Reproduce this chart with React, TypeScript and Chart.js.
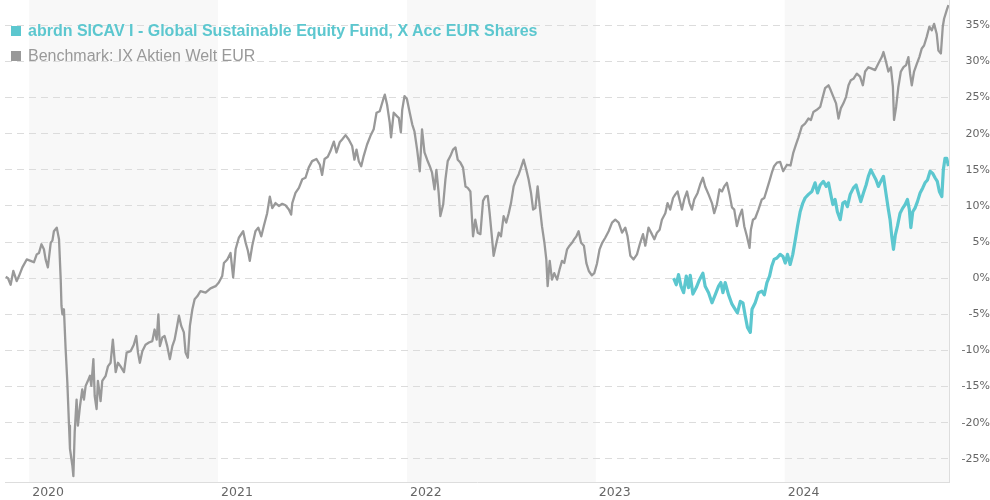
import React, { useEffect, useRef } from 'react';
import { Chart, registerables } from 'chart.js';

Chart.register(...registerables);

const FUND_NAME = 'abrdn SICAV I - Global Sustainable Equity Fund, X Acc EUR Shares';
const BENCH_NAME = 'Benchmark: IX Aktien Welt EUR';
const FUND_COLOR = '#5cc7cf';
const BENCH_COLOR = '#999999';

const YEAR_TICKS = [2020, 2021, 2022, 2023, 2024];
const SHADED_YEARS = [2020, 2022, 2024];
const PCT_TICKS = [-25, -20, -15, -10, -5, 0, 5, 10, 15, 20, 25, 30, 35];
const X_MIN = 2019.872;
const X_MAX = 2024.87;
const Y_MIN = -28.2;
const Y_MAX = 38.5;

// Benchmark: dates as decimal years, values in %
const benchDates = [
  2019.876, 2019.888, 2019.902, 2019.916, 2019.934, 2019.946, 2019.964, 2019.987, 2020.008, 2020.025,
  2020.040, 2020.052, 2020.065, 2020.078, 2020.087, 2020.099, 2020.114, 2020.123, 2020.131, 2020.146,
  2020.158, 2020.167, 2020.171, 2020.176, 2020.184, 2020.193, 2020.202, 2020.211, 2020.216, 2020.229,
  2020.234, 2020.241, 2020.251, 2020.258, 2020.269, 2020.281, 2020.290, 2020.299, 2020.311, 2020.322,
  2020.329, 2020.340, 2020.347, 2020.357, 2020.364, 2020.378, 2020.387, 2020.405, 2020.417, 2020.431,
  2020.443, 2020.458, 2020.470, 2020.484, 2020.502, 2020.516, 2020.537, 2020.554, 2020.567, 2020.576,
  2020.586, 2020.599, 2020.616, 2020.634, 2020.652, 2020.664, 2020.675, 2020.684, 2020.692, 2020.705,
  2020.717, 2020.731, 2020.745, 2020.758, 2020.770, 2020.780, 2020.793, 2020.805, 2020.819, 2020.828,
  2020.840, 2020.851, 2020.864, 2020.876, 2020.890, 2020.907, 2020.934, 2020.960, 2020.987, 2021.004,
  2021.022, 2021.031, 2021.049, 2021.066, 2021.080, 2021.093, 2021.110, 2021.133, 2021.146, 2021.158,
  2021.168, 2021.181, 2021.198, 2021.213, 2021.229, 2021.242, 2021.260, 2021.274, 2021.287, 2021.304,
  2021.322, 2021.340, 2021.357, 2021.375, 2021.387, 2021.393, 2021.410, 2021.428, 2021.446, 2021.463,
  2021.480, 2021.498, 2021.521, 2021.539, 2021.551, 2021.564, 2021.581, 2021.595, 2021.613, 2021.627,
  2021.644, 2021.657, 2021.675, 2021.692, 2021.710, 2021.722, 2021.733, 2021.745, 2021.758, 2021.771,
  2021.789, 2021.807, 2021.824, 2021.839, 2021.856, 2021.874, 2021.883, 2021.895, 2021.909, 2021.916,
  2021.930, 2021.948, 2021.957, 2021.968, 2021.975, 2021.987, 2022.000, 2022.015, 2022.028, 2022.040,
  2022.054, 2022.068, 2022.080, 2022.093, 2022.107, 2022.121, 2022.133, 2022.146, 2022.156, 2022.168,
  2022.177, 2022.192, 2022.204, 2022.216, 2022.230, 2022.244, 2022.257, 2022.269, 2022.283, 2022.297,
  2022.310, 2022.322, 2022.336, 2022.350, 2022.362, 2022.375, 2022.389, 2022.403, 2022.415, 2022.428,
  2022.438, 2022.451, 2022.459, 2022.474, 2022.486, 2022.498, 2022.512, 2022.526, 2022.539, 2022.551,
  2022.565, 2022.579, 2022.592, 2022.604, 2022.618, 2022.632, 2022.644, 2022.657, 2022.668, 2022.680,
  2022.692, 2022.703, 2022.715, 2022.728, 2022.738, 2022.745, 2022.756, 2022.768, 2022.780, 2022.795,
  2022.808, 2022.821, 2022.833, 2022.848, 2022.861, 2022.874, 2022.886, 2022.897, 2022.909, 2022.922,
  2022.937, 2022.950, 2022.963, 2022.979, 2022.992, 2023.006, 2023.020, 2023.034, 2023.050, 2023.068,
  2023.086, 2023.103, 2023.121, 2023.139, 2023.156, 2023.168, 2023.183, 2023.200, 2023.218, 2023.235,
  2023.250, 2023.262, 2023.279, 2023.297, 2023.310, 2023.324, 2023.338, 2023.350, 2023.368, 2023.380,
  2023.394, 2023.409, 2023.421, 2023.433, 2023.443, 2023.456, 2023.468, 2023.483, 2023.496, 2023.509,
  2023.521, 2023.539, 2023.553, 2023.567, 2023.579, 2023.597, 2023.615, 2023.627, 2023.641, 2023.655,
  2023.668, 2023.680, 2023.694, 2023.708, 2023.721, 2023.733, 2023.747, 2023.761, 2023.774, 2023.786,
  2023.800, 2023.814, 2023.821, 2023.832, 2023.844, 2023.861, 2023.879, 2023.892, 2023.906, 2023.920,
  2023.932, 2023.944, 2023.959, 2023.976, 2023.992, 2024.012, 2024.031, 2024.045, 2024.061, 2024.073,
  2024.091, 2024.108, 2024.126, 2024.139, 2024.152, 2024.170, 2024.188, 2024.202, 2024.214, 2024.232,
  2024.244, 2024.258, 2024.272, 2024.285, 2024.297, 2024.311, 2024.325, 2024.338, 2024.350, 2024.364,
  2024.382, 2024.399, 2024.414, 2024.426, 2024.443, 2024.461, 2024.479, 2024.496, 2024.514, 2024.523,
  2024.537, 2024.549, 2024.562, 2024.573, 2024.579, 2024.590, 2024.602, 2024.615, 2024.629, 2024.643,
  2024.655, 2024.664, 2024.673, 2024.685, 2024.700, 2024.713, 2024.726, 2024.738, 2024.752, 2024.766,
  2024.779, 2024.791, 2024.805, 2024.814, 2024.827, 2024.837, 2024.844, 2024.858, 2024.867,
];
const benchValues = [
  0.2, 0.0, -0.9, 1.0, -0.4, 0.3, 1.5, 2.6, 2.4, 2.2,
  3.3, 3.5, 4.7, 4.0, 2.6, 1.5, 4.9, 5.2, 6.5, 7.0,
  5.4, -0.2, -3.8, -5.0, -4.3, -9.8, -14.4, -20.4, -23.6, -26.0,
  -27.4, -21.3, -16.8, -20.4, -17.7, -15.4, -16.8, -14.9, -14.2, -13.5,
  -14.9, -11.2, -16.3, -18.1, -14.2, -17.0, -14.2, -13.5, -12.2, -11.7,
  -8.5, -13.0, -11.7, -12.2, -13.0, -10.3, -10.1, -9.2, -8.0, -10.3,
  -11.7, -10.1, -9.2, -8.9, -8.7, -7.1, -8.5, -5.0, -9.4, -8.2,
  -8.0, -9.4, -11.2, -9.4, -8.5, -7.1, -5.2, -6.6, -7.5, -10.3,
  -11.0, -6.6, -4.3, -2.9, -2.5, -1.8, -2.0, -1.4, -1.1, -0.6,
  0.3, 2.1, 2.6, 3.5, 0.1, 4.0, 5.6, 6.5, 4.9, 3.8,
  2.4, 4.5, 6.5, 7.0, 5.8, 7.2, 9.0, 11.3, 9.7, 10.4,
  10.0, 10.3, 10.1, 9.5, 8.8, 10.4, 11.8, 12.5, 13.7, 13.9,
  15.3, 16.2, 16.5, 15.7, 14.3, 16.5, 16.8, 17.6, 18.9, 17.4,
  18.8, 19.2, 19.8, 19.2, 18.3, 16.4, 17.8, 16.2, 15.5, 16.9,
  18.5, 19.7, 20.6, 22.9, 23.1, 24.7, 25.4, 24.0, 21.5, 19.5,
  22.9, 22.4, 22.2, 20.2, 23.3, 25.2, 24.8, 22.9, 21.3, 20.3,
  17.8, 14.8, 20.6, 17.4, 16.4, 15.5, 14.6, 12.3, 15.0, 11.8,
  8.6, 10.2, 13.7, 16.2, 16.9, 17.8, 18.1, 16.4, 16.0, 15.3,
  12.7, 12.5, 12.0, 5.8, 8.1, 6.3, 6.1, 10.7, 11.3, 11.4,
  9.0, 5.4, 3.1, 4.9, 6.3, 5.8, 8.6, 7.7, 9.0, 10.4,
  12.7, 13.7, 14.4, 15.3, 16.4, 15.0, 13.7, 11.8, 9.5, 9.7,
  12.7, 10.0, 7.2, 4.9, 2.6, -1.1, 2.4, -0.2, 0.7, -0.2,
  1.2, 2.4, 2.1, 4.0, 4.5, 4.9, 5.4, 5.8, 6.5, 4.9,
  4.5, 2.1, 1.0, 0.4, 0.7, 2.0, 4.0, 4.9, 5.6, 6.5,
  7.7, 8.1, 7.7, 6.3, 7.0, 5.8, 3.1, 2.6, 3.3, 4.9,
  6.1, 4.5, 7.0, 6.1, 5.4, 6.3, 6.7, 8.1, 9.0, 10.4,
  9.5, 11.1, 11.6, 12.0, 10.9, 9.5, 10.9, 12.0, 10.4, 9.5,
  10.9, 11.8, 13.0, 13.9, 12.7, 11.6, 10.4, 9.0, 10.2, 12.3,
  12.0, 12.7, 13.2, 11.6, 9.8, 9.5, 7.2, 8.6, 9.5, 7.2,
  5.8, 4.2, 6.7, 8.1, 8.3, 9.5, 10.9, 11.1, 12.3, 13.5,
  14.6, 15.5, 16.0, 16.1, 14.8, 15.7, 15.6, 17.3, 18.6, 19.5,
  21.0, 21.4, 22.1, 21.9, 23.0, 23.3, 23.7, 25.1, 26.3, 26.7,
  26.0, 25.1, 24.2, 22.1, 23.5, 24.2, 25.1, 26.7, 27.4, 27.6,
  28.3, 27.9, 26.7, 28.6, 29.2, 29.0, 28.8, 29.7, 30.6, 31.3,
  29.9, 28.6, 29.2, 26.5, 21.9, 23.7, 26.5, 28.6, 29.2, 29.5,
  30.6, 28.3, 26.7, 28.6, 29.7, 30.6, 31.8, 32.2, 33.4, 34.8,
  34.3, 35.2, 33.8, 31.5, 31.1, 34.8, 35.9, 37.1, 37.8,
];

// Fund: dates as decimal years, values in %
const fundDates = [
  2023.412, 2023.426, 2023.438, 2023.451, 2023.465, 2023.479, 2023.491, 2023.500, 2023.514, 2023.532,
  2023.549, 2023.567, 2023.579, 2023.597, 2023.615, 2023.632, 2023.650, 2023.662, 2023.673, 2023.685,
  2023.703, 2023.721, 2023.738, 2023.750, 2023.765, 2023.779, 2023.791, 2023.803, 2023.818, 2023.827,
  2023.844, 2023.861, 2023.879, 2023.892, 2023.906, 2023.920, 2023.932, 2023.944, 2023.959, 2023.976,
  2023.991, 2024.003, 2024.015, 2024.029, 2024.043, 2024.056, 2024.068, 2024.082, 2024.096, 2024.108,
  2024.126, 2024.144, 2024.161, 2024.174, 2024.188, 2024.205, 2024.220, 2024.232, 2024.244, 2024.255,
  2024.267, 2024.279, 2024.294, 2024.308, 2024.320, 2024.332, 2024.347, 2024.364, 2024.378, 2024.390,
  2024.403, 2024.417, 2024.431, 2024.443, 2024.456, 2024.470, 2024.484, 2024.496, 2024.509, 2024.523,
  2024.537, 2024.549, 2024.558, 2024.567, 2024.576, 2024.586, 2024.597, 2024.611, 2024.625, 2024.638,
  2024.650, 2024.660, 2024.668, 2024.678, 2024.690, 2024.703, 2024.717, 2024.731, 2024.743, 2024.756,
  2024.770, 2024.784, 2024.796, 2024.808, 2024.819, 2024.832, 2024.840, 2024.849, 2024.858, 2024.867,
];
const fundValues = [
  0.0, -0.9, 0.5, -1.1, -2.0, 0.3, -1.3, 0.4, -2.2, -1.3,
  -0.2, 0.7, -1.1, -2.0, -3.4, -2.3, -1.1, -0.6, -2.0, -0.6,
  -2.3, -3.6, -4.3, -4.8, -3.2, -3.4, -5.2, -6.8, -7.5, -4.3,
  -3.4, -2.0, -1.8, -2.3, -0.6, 0.3, 1.7, 2.6, 2.8, 3.3,
  3.0, 2.1, 3.3, 1.9, 3.3, 5.3, 7.2, 9.2, 10.4, 11.1,
  11.6, 12.0, 13.2, 11.8, 12.9, 13.4, 12.7, 13.2, 11.6, 10.2,
  10.9, 9.2, 8.1, 10.4, 10.6, 9.9, 11.6, 12.5, 12.9, 11.8,
  10.6, 11.8, 12.9, 14.1, 15.0, 14.3, 13.6, 12.7, 13.4, 14.1,
  11.6, 9.5, 8.1, 5.8, 4.0, 6.0, 7.2, 9.0, 9.7, 10.2,
  10.9, 9.5, 7.0, 9.2, 9.7, 10.6, 11.8, 12.5, 13.2, 13.6,
  14.8, 14.5, 13.9, 13.4, 12.0, 11.3, 15.0, 16.6, 16.6, 15.5,
];

const toPoints = (xs: number[], ys: number[]) => xs.map((x, i) => ({ x, y: ys[i] }));

const yearBands = {
  id: 'yearBands',
  beforeDraw(chart: any) {
    const { ctx, chartArea, scales } = chart;
    const xs = scales.x;
    ctx.save();
    ctx.fillStyle = '#f8f8f8';
    SHADED_YEARS.forEach((yr) => {
      const x0 = xs.getPixelForValue(Math.max(yr, X_MIN));
      const x1 = xs.getPixelForValue(Math.min(yr + 1, X_MAX));
      ctx.fillRect(x0, 0, x1 - x0, chartArea.bottom);
    });
    ctx.restore();
  },
};

const zeroPadding = (scale: any) => {
  scale.paddingTop = 0;
  scale.paddingBottom = 0;
  scale.paddingLeft = 0;
  scale.paddingRight = 0;
};

export default function App() {
  const canvasRef = useRef<HTMLCanvasElement | null>(null);

  useEffect(() => {
    document.body.style.margin = '0';
    const canvas = canvasRef.current;
    if (!canvas) return;
    const chart = new Chart(canvas, {
      type: 'line',
      data: {
        datasets: [
          {
            label: FUND_NAME,
            data: toPoints(fundDates, fundValues),
            borderColor: FUND_COLOR,
            backgroundColor: FUND_COLOR,
            borderWidth: 3.2,
            pointRadius: 0,
            tension: 0,
            borderJoinStyle: 'round',
          },
          {
            label: BENCH_NAME,
            data: toPoints(benchDates, benchValues),
            borderColor: BENCH_COLOR,
            backgroundColor: BENCH_COLOR,
            borderWidth: 2.3,
            pointRadius: 0,
            tension: 0,
            borderJoinStyle: 'round',
          },
        ],
      },
      options: {
        animation: false,
        responsive: false,
        maintainAspectRatio: false,
        layout: { padding: { left: 5, top: 0, right: 0, bottom: 0 } },
        plugins: {
          legend: { display: false },
          tooltip: { enabled: false },
        },
        scales: {
          x: {
            type: 'linear',
            min: X_MIN,
            max: X_MAX,
            afterBuildTicks: (scale: any) => {
              scale.ticks = YEAR_TICKS.map((v) => ({ value: v }));
            },
            afterFit: (scale: any) => {
              scale.height = 18;
              zeroPadding(scale);
            },
            grid: { display: false, drawTicks: false },
            border: { display: true, color: '#dddddd', width: 1 },
            ticks: {
              align: 'start',
              labelOffset: 3,
              padding: 3,
              maxRotation: 0,
              autoSkip: false,
              color: '#666666',
              font: { family: 'DejaVu Sans', size: 12.5 },
              callback: (v: any) => String(v),
            },
          },
          y: {
            type: 'linear',
            position: 'right',
            min: Y_MIN,
            max: Y_MAX,
            afterBuildTicks: (scale: any) => {
              scale.ticks = PCT_TICKS.map((v) => ({ value: v }));
            },
            afterFit: (scale: any) => {
              scale.width = 41;
              zeroPadding(scale);
            },
            grid: { color: '#dcdcdc', drawTicks: false, lineWidth: 1 },
            border: { display: true, color: '#dddddd', width: 1, dash: [7, 5] },
            ticks: {
              crossAlign: 'far',
              padding: 0,
              color: '#666666',
              font: { family: 'DejaVu Sans', size: 11 },
              callback: (v: any) => `${v}%`,
            },
          },
        },
      },
      plugins: [yearBands],
    });
    return () => chart.destroy();
  }, []);

  const legendRow = (color: string, text: string, bold: boolean) => (
    <div style={{ display: 'flex', alignItems: 'center', height: 25 }}>
      <span style={{ display: 'inline-block', width: 10, height: 10, background: color, marginRight: 7 }} />
      <span
        style={{
          color,
          fontFamily: '"Liberation Sans", Arial, sans-serif',
          fontSize: 16,
          fontWeight: bold ? 'bold' : 'normal',
          whiteSpace: 'nowrap',
        }}
      >
        {text}
      </span>
    </div>
  );

  return (
    <div style={{ position: 'relative', width: 990, height: 500 }}>
      <canvas ref={canvasRef} width={990} height={500} style={{ display: 'block', width: 990, height: 500 }} />
      <div style={{ position: 'absolute', left: 11, top: 18 }}>
        {legendRow(FUND_COLOR, FUND_NAME, true)}
        {legendRow(BENCH_COLOR, BENCH_NAME, false)}
      </div>
    </div>
  );
}
